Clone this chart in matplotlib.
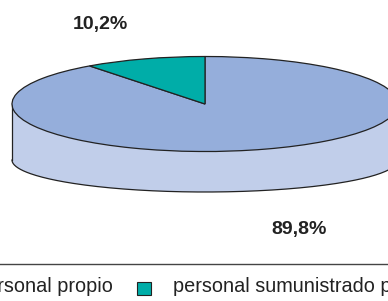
import numpy as np
import matplotlib
matplotlib.use("Agg")
import matplotlib.pyplot as plt
from matplotlib.transforms import Affine2D
from matplotlib.patches import Polygon, Rectangle

# ---- data ----
categories = ["personal propio", "personal sumunistrado por ETT"]
values = [89.8, 10.2]
colors_top = ["#95AEDB", "#00ADA8"]
color_side = "#C1CEEA"

plt.rcParams['font.family'] = ['Liberation Sans', 'DejaVu Sans']

W, H = 388, 301
fig = plt.figure(figsize=(W / 100, H / 100), dpi=100)
ax = fig.add_axes([0, 0, 1, 1])

# geometry (pixel units, origin bottom-left)
cx, cy = 205, H - 104
a, b = 193, 47.5
cyb, bb = H - 160, 32

# side wall
t = np.linspace(np.pi, 2 * np.pi, 200)
xs = cx + a * np.cos(t)
ys = cyb + bb * np.sin(t)
wall = np.vstack([[cx - a, cy], np.column_stack([xs, ys]), [cx + a, cy]])
ax.add_patch(Polygon(wall, closed=True, facecolor=color_side, edgecolor="none", zorder=1))
ax.plot(xs, ys, color="#222222", lw=0.9, zorder=2)
ax.plot([cx - a, cx - a], [cy, cyb], color="#222222", lw=0.9, zorder=2)
ax.plot([cx + a, cx + a], [cy, cyb], color="#222222", lw=0.9, zorder=2)

# top face: pie squashed into an ellipse
wedges, _ = ax.pie(values, colors=colors_top, startangle=90, counterclock=False,
                   center=(cx, cy), radius=a,
                   wedgeprops=dict(edgecolor="#222222", linewidth=0.9))
squash = Affine2D().translate(-cx, -cy).scale(1, b / a).translate(cx, cy) + ax.transData
for w in wedges:
    w.set_transform(squash)
    w.set_zorder(3)

ax.set_aspect("auto")
ax.set_xlim(0, W)
ax.set_ylim(0, H)
ax.axis("off")

# percentage labels
def fmt(v):
    return f"{v:.1f}%".replace(".", ",")

label_pos = [(299, H - 229.5), (100.5, H - 24)]
for v, (lx, ly) in zip(values, label_pos):
    ax.text(lx, ly, fmt(v), ha="center", va="center", fontsize=14,
            fontweight="bold", color="#222222", zorder=5)

# separator line
ax.plot([0, W], [H - 264, H - 264], color="#444444", lw=1.0, zorder=4)

# legend (manual)
base_y = H - 292
text_right_0 = 113
ax.text(text_right_0, base_y, categories[0], ha="right", va="baseline",
        fontsize=14.3, color="#222222")
ax.add_patch(Rectangle((-61, H - 295), 14, 13, facecolor=colors_top[0],
                       edgecolor="#222222", lw=0.8, zorder=5, clip_on=False))
ax.add_patch(Rectangle((137, H - 295), 14, 13, facecolor=colors_top[1],
                       edgecolor="#222222", lw=0.8, zorder=5))
ax.text(173, base_y, categories[1], ha="left", va="baseline",
        fontsize=14.3, color="#222222")

fig.savefig("out.png", dpi=100)
